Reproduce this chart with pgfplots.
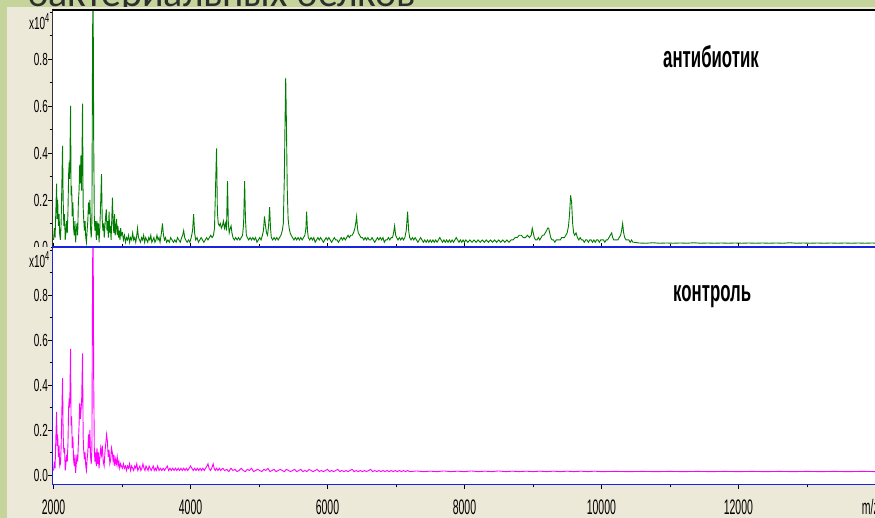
\documentclass[border=0pt]{standalone}
\usepackage{fontspec}
\usepackage{pgfplots}
\usepackage{pgfplotstable}
\pgfplotsset{compat=1.18}
\setmainfont{Liberation Sans}
\newfontfamily\narrow[FakeStretch=0.57]{Liberation Sans}
\newfontfamily\narrowx[FakeStretch=0.50]{Liberation Sans}
\newfontfamily\lab[FakeStretch=0.56]{Liberation Sans}
\newfontfamily\titlefont{Carlito}
\definecolor{slidegreen}{RGB}{196,212,155}
\definecolor{panel}{RGB}{236,233,216}
\definecolor{specgreen}{RGB}{0,125,0}
\definecolor{specmag}{RGB}{255,0,255}
\definecolor{frameblue}{RGB}{25,35,225}

\pgfplotstableread[row sep=\\]{
x y\\
2000 0.03\\ 2012 0.08\\ 2022 0.04\\ 2032 0.14\\ 2044 0.27\\ 2052 0.12\\ 2060 0.20\\ 2070 0.09\\ 2080 0.14\\ 2090 0.05\\
2100 0.03\\ 2110 0.10\\ 2120 0.25\\ 2131 0.43\\ 2140 0.20\\ 2150 0.09\\ 2160 0.14\\ 2170 0.03\\ 2180 0.06\\ 2190 0.11\\
2200 0.06\\ 2210 0.15\\ 2220 0.31\\ 2228 0.36\\ 2236 0.29\\ 2248 0.60\\ 2256 0.22\\ 2264 0.26\\ 2272 0.13\\ 2282 0.19\\
2292 0.08\\ 2302 0.05\\ 2312 0.11\\ 2322 0.02\\ 2332 0.07\\ 2342 0.10\\ 2352 0.05\\ 2362 0.19\\ 2372 0.24\\ 2382 0.35\\
2390 0.27\\ 2400 0.39\\ 2410 0.24\\ 2423 0.61\\ 2432 0.17\\ 2440 0.12\\ 2450 0.07\\ 2460 0.11\\ 2470 0.04\\ 2480 0.02\\
2490 0.07\\ 2500 0.11\\ 2510 0.19\\ 2520 0.14\\ 2530 0.20\\ 2540 0.08\\ 2550 0.04\\ 2560 0.11\\ 2570 0.93\\ 2578 1.05\\
2586 0.45\\ 2595 0.12\\ 2604 0.07\\ 2614 0.11\\ 2624 0.03\\ 2634 0.11\\ 2644 0.05\\ 2654 0.10\\ 2664 0.02\\ 2674 0.07\\
2688 0.19\\ 2700 0.31\\ 2710 0.12\\ 2720 0.07\\ 2730 0.10\\ 2740 0.04\\ 2750 0.09\\ 2760 0.13\\ 2770 0.16\\ 2780 0.07\\
2790 0.11\\ 2800 0.04\\ 2810 0.15\\ 2820 0.06\\ 2830 0.09\\ 2840 0.03\\ 2850 0.12\\ 2860 0.21\\ 2870 0.10\\ 2880 0.06\\
2890 0.14\\ 2900 0.05\\ 2910 0.08\\ 2920 0.12\\ 2930 0.05\\ 2940 0.09\\ 2950 0.04\\ 2960 0.07\\ 2970 0.03\\ 2980 0.08\\
2990 0.05\\ 3005 0.06\\ 3020 0.03\\ 3035 0.05\\ 3050 0.02\\ 3065 0.04\\ 3080 0.03\\ 3095 0.05\\ 3110 0.02\\ 3125 0.04\\
3140 0.03\\ 3155 0.06\\ 3170 0.03\\ 3185 0.04\\ 3200 0.02\\ 3215 0.05\\ 3226 0.08\\ 3240 0.04\\ 3255 0.03\\ 3270 0.02\\
3285 0.04\\ 3300 0.03\\ 3315 0.05\\ 3330 0.02\\ 3345 0.04\\ 3360 0.03\\ 3375 0.02\\ 3390 0.04\\ 3405 0.03\\ 3420 0.05\\
3435 0.02\\ 3450 0.03\\ 3465 0.04\\ 3480 0.02\\ 3495 0.03\\ 3510 0.05\\ 3525 0.03\\ 3540 0.04\\ 3555 0.02\\ 3575 0.06\\
3590 0.10\\ 3605 0.05\\ 3620 0.03\\ 3635 0.04\\ 3650 0.02\\ 3670 0.03\\ 3690 0.02\\ 3710 0.04\\ 3730 0.03\\ 3750 0.02\\
3770 0.03\\ 3790 0.02\\ 3810 0.04\\ 3830 0.03\\ 3850 0.02\\ 3870 0.04\\ 3885 0.05\\ 3900 0.07\\ 3915 0.04\\ 3930 0.03\\
3950 0.02\\ 3970 0.03\\ 3990 0.02\\ 4010 0.04\\ 4030 0.07\\ 4045 0.14\\ 4060 0.06\\ 4075 0.03\\ 4095 0.04\\ 4115 0.02\\
4135 0.03\\ 4155 0.04\\ 4175 0.03\\ 4195 0.02\\ 4215 0.03\\ 4235 0.04\\ 4255 0.03\\ 4275 0.04\\ 4295 0.05\\ 4315 0.04\\
4335 0.05\\ 4350 0.08\\ 4365 0.25\\ 4380 0.42\\ 4392 0.15\\ 4405 0.10\\ 4420 0.09\\ 4435 0.10\\ 4450 0.08\\ 4465 0.09\\
4480 0.11\\ 4495 0.08\\ 4510 0.10\\ 4525 0.07\\ 4540 0.28\\ 4552 0.10\\ 4565 0.06\\ 4580 0.08\\ 4592 0.09\\ 4605 0.06\\
4620 0.04\\ 4640 0.03\\ 4660 0.04\\ 4680 0.03\\ 4700 0.04\\ 4720 0.03\\ 4740 0.04\\ 4760 0.05\\ 4775 0.10\\ 4790 0.28\\
4802 0.12\\ 4815 0.05\\ 4830 0.04\\ 4850 0.03\\ 4870 0.04\\ 4890 0.03\\ 4910 0.04\\ 4930 0.03\\ 4950 0.04\\ 4970 0.02\\
4990 0.03\\ 5010 0.04\\ 5030 0.03\\ 5050 0.05\\ 5065 0.07\\ 5080 0.13\\ 5095 0.09\\ 5110 0.06\\ 5125 0.05\\ 5140 0.09\\
5155 0.17\\ 5168 0.08\\ 5180 0.04\\ 5200 0.03\\ 5220 0.04\\ 5240 0.03\\ 5260 0.04\\ 5280 0.03\\ 5300 0.04\\ 5320 0.05\\
5340 0.07\\ 5355 0.10\\ 5370 0.30\\ 5380 0.53\\ 5390 0.72\\ 5400 0.53\\ 5412 0.25\\ 5425 0.12\\ 5440 0.08\\ 5455 0.06\\
5470 0.05\\ 5490 0.04\\ 5510 0.03\\ 5530 0.04\\ 5550 0.03\\ 5570 0.04\\ 5590 0.03\\ 5610 0.04\\ 5630 0.03\\ 5650 0.04\\
5670 0.05\\ 5685 0.08\\ 5695 0.15\\ 5708 0.07\\ 5720 0.04\\ 5740 0.03\\ 5760 0.04\\ 5780 0.03\\ 5800 0.04\\ 5820 0.02\\
5840 0.03\\ 5860 0.04\\ 5880 0.03\\ 5900 0.04\\ 5920 0.03\\ 5940 0.02\\ 5960 0.03\\ 5980 0.04\\ 6000 0.03\\ 6020 0.04\\
6040 0.03\\ 6060 0.02\\ 6080 0.03\\ 6100 0.04\\ 6120 0.03\\ 6140 0.03\\ 6160 0.02\\ 6180 0.03\\ 6200 0.04\\ 6220 0.03\\
6240 0.04\\ 6260 0.03\\ 6280 0.04\\ 6300 0.05\\ 6320 0.04\\ 6340 0.05\\ 6360 0.05\\ 6380 0.06\\ 6400 0.08\\ 6412 0.10\\
6425 0.13\\ 6438 0.08\\ 6450 0.06\\ 6470 0.05\\ 6490 0.04\\ 6510 0.04\\ 6530 0.03\\ 6550 0.04\\ 6570 0.03\\ 6590 0.04\\
6610 0.03\\ 6630 0.03\\ 6650 0.04\\ 6670 0.03\\ 6690 0.02\\ 6710 0.03\\ 6730 0.04\\ 6750 0.03\\ 6770 0.04\\ 6790 0.03\\
6810 0.04\\ 6830 0.02\\ 6850 0.03\\ 6870 0.03\\ 6890 0.04\\ 6910 0.03\\ 6930 0.04\\ 6950 0.04\\ 6965 0.06\\ 6980 0.09\\
6995 0.05\\ 7010 0.04\\ 7030 0.03\\ 7050 0.04\\ 7070 0.03\\ 7090 0.04\\ 7110 0.03\\ 7130 0.04\\ 7150 0.07\\ 7170 0.15\\
7185 0.07\\ 7200 0.04\\ 7220 0.03\\ 7240 0.04\\ 7260 0.03\\ 7280 0.04\\ 7300 0.03\\ 7320 0.02\\ 7340 0.03\\ 7360 0.04\\
7380 0.03\\ 7400 0.02\\ 7420 0.03\\ 7440 0.02\\ 7460 0.03\\ 7480 0.02\\ 7500 0.03\\ 7520 0.02\\ 7540 0.03\\ 7560 0.02\\
7580 0.03\\ 7600 0.02\\ 7620 0.03\\ 7640 0.04\\ 7660 0.03\\ 7680 0.02\\ 7700 0.03\\ 7720 0.02\\ 7740 0.03\\ 7760 0.02\\
7780 0.03\\ 7800 0.02\\ 7820 0.03\\ 7840 0.02\\ 7860 0.03\\ 7880 0.04\\ 7900 0.03\\ 7920 0.02\\ 7940 0.03\\ 7960 0.02\\
7980 0.03\\ 8000 0.02\\ 8020 0.03\\ 8050 0.02\\ 8080 0.03\\ 8110 0.02\\ 8140 0.03\\ 8170 0.02\\ 8200 0.03\\ 8230 0.02\\
8260 0.03\\ 8290 0.02\\ 8320 0.03\\ 8350 0.02\\ 8380 0.03\\ 8410 0.02\\ 8440 0.03\\ 8470 0.02\\ 8500 0.03\\ 8530 0.02\\
8560 0.03\\ 8590 0.02\\ 8620 0.03\\ 8650 0.02\\ 8680 0.03\\ 8710 0.03\\ 8740 0.04\\ 8770 0.04\\ 8800 0.05\\ 8830 0.05\\
8860 0.04\\ 8890 0.04\\ 8920 0.05\\ 8950 0.04\\ 8975 0.05\\ 8990 0.08\\ 9005 0.06\\ 9020 0.04\\ 9040 0.03\\ 9060 0.03\\
9080 0.04\\ 9100 0.03\\ 9120 0.04\\ 9140 0.05\\ 9160 0.05\\ 9180 0.06\\ 9200 0.07\\ 9215 0.08\\ 9230 0.08\\ 9245 0.06\\
9260 0.04\\ 9280 0.03\\ 9300 0.03\\ 9320 0.02\\ 9340 0.03\\ 9360 0.03\\ 9380 0.03\\ 9400 0.03\\ 9420 0.04\\ 9440 0.04\\
9460 0.04\\ 9480 0.05\\ 9500 0.06\\ 9520 0.09\\ 9535 0.14\\ 9550 0.22\\ 9565 0.19\\ 9580 0.10\\ 9595 0.06\\ 9610 0.05\\
9630 0.06\\ 9650 0.04\\ 9670 0.03\\ 9690 0.04\\ 9710 0.03\\ 9730 0.03\\ 9750 0.02\\ 9770 0.03\\ 9790 0.03\\ 9810 0.02\\
9830 0.03\\ 9850 0.03\\ 9870 0.02\\ 9890 0.03\\ 9910 0.02\\ 9930 0.03\\ 9950 0.03\\ 9970 0.02\\ 9990 0.03\\ 10010 0.03\\
10030 0.03\\ 10050 0.02\\ 10070 0.03\\ 10090 0.03\\ 10110 0.04\\ 10130 0.05\\ 10150 0.06\\ 10165 0.04\\ 10180 0.03\\ 10200 0.03\\
10220 0.03\\ 10240 0.03\\ 10260 0.04\\ 10280 0.05\\ 10295 0.07\\ 10310 0.10\\ 10325 0.06\\ 10340 0.04\\ 10360 0.03\\ 10380 0.03\\
10400 0.03\\ 10420 0.02\\ 10440 0.03\\ 10460 0.02\\ 10480 0.02\\ 10550 0.017\\ 10650 0.016\\ 10750 0.018\\ 10850 0.016\\ 10950 0.017\\
11050 0.016\\ 11150 0.017\\ 11250 0.016\\ 11350 0.018\\ 11450 0.016\\ 11550 0.017\\ 11650 0.016\\ 11750 0.017\\ 11850 0.016\\ 11950 0.017\\
12050 0.016\\ 12150 0.017\\ 12250 0.016\\ 12350 0.017\\ 12450 0.016\\ 12550 0.017\\ 12650 0.016\\ 12750 0.018\\ 12850 0.016\\ 12950 0.017\\
13050 0.016\\ 13150 0.017\\ 13250 0.016\\ 13350 0.017\\ 13450 0.016\\ 13550 0.017\\ 13650 0.016\\ 13750 0.017\\ 13850 0.016\\ 13950 0.017\\
14050 0.016\\
}\antibiotic

\pgfplotstableread[row sep=\\]{
x y\\
2000 0.02\\ 2012 0.06\\ 2022 0.03\\ 2032 0.15\\ 2044 0.28\\ 2052 0.13\\ 2060 0.18\\ 2070 0.08\\ 2080 0.13\\ 2090 0.04\\
2100 0.05\\ 2110 0.12\\ 2120 0.27\\ 2131 0.43\\ 2140 0.18\\ 2150 0.10\\ 2160 0.12\\ 2170 0.02\\ 2180 0.05\\ 2190 0.09\\
2200 0.06\\ 2210 0.14\\ 2220 0.30\\ 2228 0.34\\ 2236 0.30\\ 2248 0.56\\ 2256 0.22\\ 2264 0.26\\ 2272 0.12\\ 2282 0.17\\
2292 0.07\\ 2302 0.04\\ 2312 0.09\\ 2322 0.01\\ 2332 0.05\\ 2342 0.09\\ 2352 0.06\\ 2362 0.14\\ 2372 0.22\\ 2382 0.32\\
2392 0.25\\ 2410 0.33\\ 2423 0.54\\ 2432 0.17\\ 2440 0.11\\ 2450 0.07\\ 2460 0.10\\ 2470 0.04\\ 2480 0.02\\ 2490 0.07\\
2500 0.10\\ 2510 0.18\\ 2520 0.12\\ 2530 0.20\\ 2540 0.08\\ 2550 0.05\\ 2560 0.12\\ 2570 0.95\\ 2578 1.05\\ 2586 0.42\\
2595 0.11\\ 2604 0.06\\ 2614 0.10\\ 2624 0.04\\ 2634 0.12\\ 2644 0.05\\ 2654 0.10\\ 2664 0.03\\ 2674 0.07\\ 2688 0.12\\
2700 0.09\\ 2712 0.13\\ 2725 0.06\\ 2738 0.04\\ 2750 0.10\\ 2762 0.14\\ 2774 0.18\\ 2786 0.15\\ 2798 0.08\\ 2810 0.11\\
2822 0.05\\ 2834 0.07\\ 2846 0.12\\ 2858 0.10\\ 2870 0.06\\ 2882 0.09\\ 2894 0.04\\ 2906 0.07\\ 2918 0.05\\ 2930 0.08\\
2942 0.04\\ 2954 0.06\\ 2966 0.03\\ 2978 0.05\\ 2990 0.04\\ 3005 0.03\\ 3020 0.05\\ 3035 0.03\\ 3050 0.04\\ 3065 0.02\\
3080 0.04\\ 3095 0.03\\ 3110 0.05\\ 3125 0.02\\ 3140 0.04\\ 3155 0.03\\ 3170 0.02\\ 3185 0.04\\ 3200 0.03\\ 3215 0.05\\
3230 0.02\\ 3245 0.03\\ 3260 0.04\\ 3275 0.02\\ 3290 0.03\\ 3305 0.05\\ 3320 0.03\\ 3335 0.02\\ 3350 0.04\\ 3365 0.03\\
3380 0.02\\ 3395 0.04\\ 3410 0.03\\ 3425 0.02\\ 3440 0.03\\ 3455 0.04\\ 3470 0.02\\ 3485 0.03\\ 3500 0.02\\ 3520 0.04\\
3540 0.02\\ 3560 0.03\\ 3580 0.02\\ 3600 0.03\\ 3620 0.02\\ 3640 0.03\\ 3660 0.04\\ 3680 0.02\\ 3700 0.03\\ 3720 0.02\\
3740 0.03\\ 3760 0.02\\ 3780 0.03\\ 3800 0.02\\ 3820 0.03\\ 3840 0.02\\ 3860 0.03\\ 3880 0.02\\ 3900 0.03\\ 3920 0.02\\
3940 0.03\\ 3960 0.02\\ 3980 0.03\\ 4000 0.04\\ 4020 0.03\\ 4040 0.02\\ 4060 0.03\\ 4080 0.02\\ 4100 0.03\\ 4120 0.02\\
4140 0.03\\ 4160 0.02\\ 4180 0.03\\ 4200 0.02\\ 4220 0.03\\ 4240 0.04\\ 4255 0.05\\ 4270 0.03\\ 4290 0.02\\ 4310 0.03\\
4330 0.05\\ 4345 0.03\\ 4360 0.02\\ 4380 0.03\\ 4400 0.02\\ 4420 0.03\\ 4440 0.02\\ 4470 0.03\\ 4500 0.02\\ 4530 0.025\\
4560 0.015\\ 4590 0.03\\ 4620 0.02\\ 4650 0.025\\ 4680 0.015\\ 4710 0.02\\ 4740 0.03\\ 4770 0.02\\ 4800 0.015\\ 4830 0.025\\
4860 0.02\\ 4890 0.03\\ 4920 0.015\\ 4950 0.02\\ 4980 0.025\\ 5010 0.02\\ 5040 0.015\\ 5070 0.025\\ 5100 0.02\\ 5130 0.03\\
5160 0.015\\ 5190 0.02\\ 5220 0.025\\ 5250 0.015\\ 5280 0.02\\ 5310 0.025\\ 5340 0.02\\ 5370 0.015\\ 5400 0.025\\ 5430 0.02\\
5460 0.015\\ 5490 0.02\\ 5520 0.025\\ 5550 0.015\\ 5580 0.02\\ 5610 0.025\\ 5640 0.015\\ 5670 0.02\\ 5700 0.015\\ 5730 0.025\\
5760 0.02\\ 5790 0.015\\ 5820 0.02\\ 5850 0.025\\ 5880 0.015\\ 5910 0.02\\ 5940 0.015\\ 5970 0.02\\ 6000 0.025\\ 6030 0.015\\
6060 0.02\\ 6090 0.015\\ 6120 0.02\\ 6150 0.025\\ 6180 0.015\\ 6210 0.02\\ 6240 0.015\\ 6270 0.02\\ 6300 0.015\\ 6330 0.02\\
6360 0.025\\ 6390 0.015\\ 6420 0.02\\ 6450 0.015\\ 6480 0.02\\ 6510 0.015\\ 6540 0.02\\ 6570 0.015\\ 6600 0.02\\ 6630 0.025\\
6660 0.015\\ 6690 0.02\\ 6720 0.015\\ 6750 0.02\\ 6780 0.015\\ 6810 0.02\\ 6840 0.015\\ 6870 0.02\\ 6900 0.015\\ 6930 0.02\\
6960 0.015\\ 6990 0.02\\ 7020 0.015\\ 7050 0.02\\ 7080 0.015\\ 7110 0.02\\ 7140 0.015\\ 7170 0.02\\ 7200 0.015\\ 7300 0.018\\
7400 0.015\\ 7500 0.017\\ 7600 0.015\\ 7700 0.018\\ 7800 0.015\\ 7900 0.017\\ 8000 0.015\\ 8100 0.018\\ 8200 0.015\\ 8300 0.017\\
8400 0.015\\ 8500 0.018\\ 8600 0.015\\ 8700 0.017\\ 8800 0.015\\ 8900 0.017\\ 9000 0.015\\ 9100 0.017\\ 9200 0.015\\ 9300 0.017\\
9400 0.015\\ 9500 0.017\\ 9600 0.015\\ 9700 0.017\\ 9800 0.015\\ 9900 0.017\\ 10000 0.015\\ 10200 0.016\\ 10400 0.015\\ 10600 0.016\\
10800 0.015\\ 11000 0.016\\ 11200 0.015\\ 11400 0.016\\ 11600 0.015\\ 11800 0.016\\ 12000 0.015\\ 12200 0.016\\ 12400 0.015\\ 12600 0.016\\
12800 0.015\\ 13000 0.016\\ 13200 0.015\\ 13400 0.016\\ 13600 0.015\\ 13800 0.016\\ 14050 0.015\\
}\control

\pgfplotsset{
  specaxis/.style={
    scale only axis, width=824pt,
    xmin=1977, xmax=14010,
    scaled x ticks=false, scaled y ticks=false,
    axis line style={draw=none},
    axis background/.style={fill=white},
    tick align=outside,
    major tick length=4pt, minor tick length=2.5pt,
    tick style={black, line width=0.6pt},
    ytick={0,0.2,0.4,0.6,0.8},
    minor ytick={0.1,0.3,0.5,0.7,0.9,1.0},
    /pgf/number format/assume math mode=true,
    y tick label style={font=\narrow\fontsize{17.5}{17.5}\selectfont, inner sep=0pt,
      /pgf/number format/fixed, /pgf/number format/fixed zerofill, /pgf/number format/precision=1},
    x tick label style={font=\narrowx\fontsize{21}{21}\selectfont, inner sep=0pt,
      /pgf/number format/1000 sep={}},
  }
}

\begin{document}
\begin{tikzpicture}[x=1pt,y=1pt]
\useasboundingbox (0,0) rectangle (875,518);
\clip (0,0) rectangle (875,518);
\fill[slidegreen] (0,0) rectangle (875,518);
\node[anchor=base west, inner sep=0pt, text=black!82] at (27,511)
  {\titlefont\fontsize{40}{40}\selectfont бактериальных белков};
\fill[panel] (7,0) rectangle (875,511);

% top panel: antibiotic
\begin{axis}[specaxis, at={(52pt,271pt)}, anchor=south west, height=237pt,
  ymin=0, ymax=1.0085, xtick=\empty]
  \addplot[specgreen, line width=0.9pt] table[x=x,y=y] {\antibiotic};
  \draw[black!45, line width=0.8pt] (rel axis cs:0,1) ++(0,1.6pt) -- ([yshift=1.6pt]rel axis cs:1.01,1);
  \draw[black, line width=1.1pt] (rel axis cs:0,1) -- (rel axis cs:1.01,1);
  \draw[black!80, line width=0.8pt] (rel axis cs:0,0) -- (rel axis cs:0,1);
\end{axis}
\node[anchor=base east, inner sep=0pt] at (49.5,488)
  {\narrow\fontsize{17.5}{17.5}\selectfont x10\raisebox{7pt}{\fontsize{13}{13}\selectfont 4}};
\node[anchor=base west, inner sep=0pt] at (663,450)
  {\lab\bfseries\fontsize{30}{30}\selectfont антибиотик};

% cover lower part of top panel margin
\fill[panel] (7,0) rectangle (51,271);

% bottom panel: control
\begin{axis}[specaxis, at={(52pt,33pt)}, anchor=south west, height=238pt,
  ymin=-0.0444, ymax=1.0133,
  xtick={2000,4000,6000,8000,10000,12000},
  minor xtick={3000,5000,7000,9000,11000,13000},
  extra x ticks={14000}, extra x tick labels={m/z},
  extra x tick style={x tick label style={xshift=-5pt}},
  x tick label style={anchor=base, yshift=-25.5pt}]
  \addplot[specmag, line width=0.9pt] table[x=x,y=y] {\control};
  \draw[black, line width=0.9pt] ([yshift=-1.6pt]rel axis cs:0,0) -- ([yshift=-1.6pt]rel axis cs:1.01,0);
  \draw[frameblue, line width=1.8pt] (rel axis cs:0,0) -- (rel axis cs:1.01,0);
  \draw[frameblue, line width=1.8pt] (rel axis cs:1.01,1) -- (rel axis cs:0,1) -- (rel axis cs:0,0);
\end{axis}
\node[anchor=base east, inner sep=0pt] at (49.5,250)
  {\narrow\fontsize{17.5}{17.5}\selectfont x10\raisebox{7pt}{\fontsize{13}{13}\selectfont 4}};
\node[anchor=base west, inner sep=0pt] at (673,216)
  {\lab\bfseries\fontsize{30}{30}\selectfont контроль};
\end{tikzpicture}
\end{document}
